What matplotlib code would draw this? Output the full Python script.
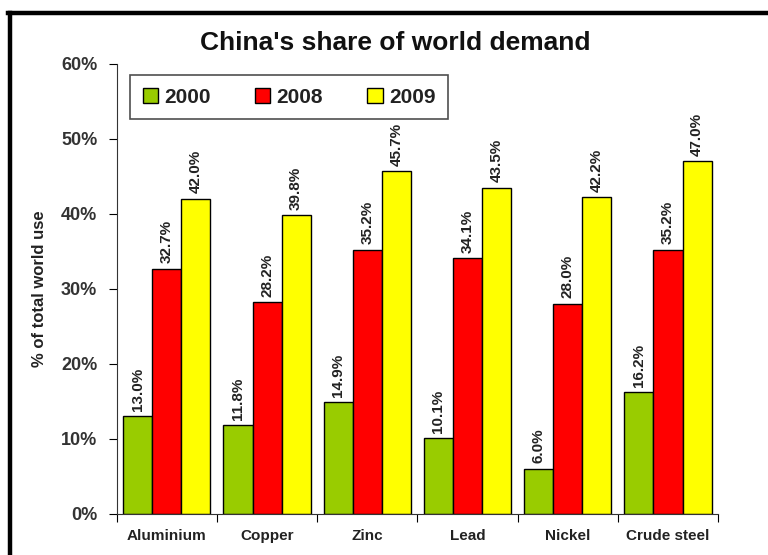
import matplotlib.pyplot as plt
import numpy as np
from matplotlib.lines import Line2D

metals = ["Aluminium", "Copper", "Zinc", "Lead", "Nickel", "Crude steel"]
years = ["2000", "2008", "2009"]
share_2000 = [13.0, 11.8, 14.9, 10.1, 6.0, 16.2]
share_2008 = [32.7, 28.2, 35.2, 34.1, 28.0, 35.2]
share_2009 = [42.0, 39.8, 45.7, 43.5, 42.2, 47.0]
colori = ["#99CC00", "#FF0000", "#FFFF00"]

plt.rcParams['font.family'] = ['Liberation Sans', 'DejaVu Sans']
plt.rcParams['font.weight'] = 'bold'

fig = plt.figure(figsize=(7.68, 5.55), dpi=100)
ax = fig.add_axes([0.152, 0.074, 0.783, 0.811])

x = np.arange(len(metals))
larghezza = 0.29
serie = [share_2000, share_2008, share_2009]
for i, valori in enumerate(serie):
    pos = x + (i - 1) * larghezza
    barre = ax.bar(pos, valori, larghezza, color=colori[i], edgecolor="black",
                   linewidth=1, label=years[i], zorder=2)
    for b, v in zip(barre, valori):
        ax.annotate(f"{v:.1f}%", (b.get_x() + b.get_width() / 2, v),
                    xytext=(0, 4), textcoords="offset points",
                    rotation=90, ha="center", va="bottom",
                    fontsize=11, fontweight="bold", color="#222222")

ax.set_xlim(-0.5, len(metals) - 0.5)
ax.set_ylim(0, 60)
ax.set_yticks(range(0, 61, 10))
ax.set_yticklabels([f"{t}%" for t in range(0, 61, 10)], fontsize=13,
                   fontweight="bold", color="#333333")
ax.set_xticks(np.arange(-0.5, len(metals), 1))
ax.set_xticklabels([])
ax.set_xticks(x, minor=True)
ax.set_xticklabels(metals, minor=True, fontsize=11, fontweight="bold",
                   color="#222222")
ax.tick_params(axis="x", which="minor", length=0, pad=11)
ax.tick_params(axis="x", which="major", length=6, direction="out")
ax.tick_params(axis="y", length=6, direction="out", pad=8)
for s in ["top", "right"]:
    ax.spines[s].set_visible(False)
ax.spines["left"].set_color("#333333")
ax.spines["bottom"].set_color("#333333")

ax.set_ylabel("% of total world use", fontsize=12, fontweight="bold",
              color="#222222", labelpad=10)

leg = ax.legend(loc="upper left", bbox_to_anchor=(0.005, 0.998), ncol=3,
                fontsize=15, frameon=True, fancybox=False, handlelength=0.75,
                handleheight=0.75, handletextpad=0.3, columnspacing=2.1,
                borderpad=0.6)
leg.get_frame().set_edgecolor("#222222")
leg.get_frame().set_linewidth(1.2)
for t in leg.get_texts():
    t.set_fontweight("bold")
    t.set_color("#222222")

fig.text(0.514, 0.922, "China's share of world demand", ha="center",
         va="center", fontsize=19, fontweight="bold", color="#111111")

# cornice del grafico
fig.add_artist(Line2D([0.013, 0.013], [0.0, 0.976], color="black",
                      linewidth=3.2, transform=fig.transFigure))
fig.add_artist(Line2D([0.011, 1.0], [0.976, 0.976], color="black",
                      linewidth=3.2, transform=fig.transFigure))

fig.savefig("out.png", dpi=100)
